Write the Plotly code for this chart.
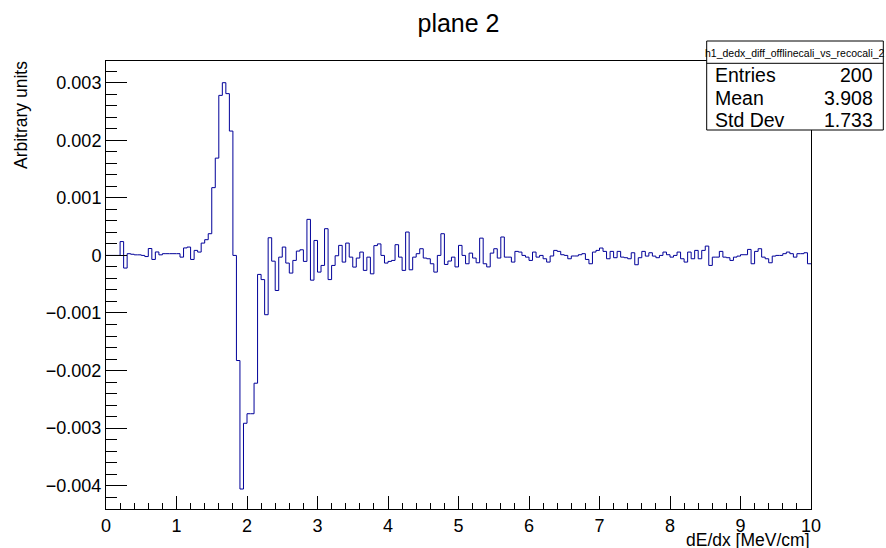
import numpy as np
import plotly.graph_objects as go

# ---------------- data ----------------
hist_name = "h1_dedx_diff_offlinecali_vs_recocali_2"
title_text = "plane 2"
x_title = "dE/dx [MeV/cm]"
y_title = "Arbitrary units"
n_bins = 200
x_min, x_max = 0.0, 10.0

# bin contents, in units of 1e-3
contents_e3 = [
    0, 0, 0, 0, 0.24, -0.22, 0.03, 0.02, 0.01, 0.01,
    0.0, -0.02, 0.12, -0.07, 0.06, 0.01, 0.03, 0.03, 0.03, 0.03,
    0.03, -0.03, 0.13, 0.145, -0.07, 0.087, 0.058, 0.214, 0.273, 0.377,
    1.177, 1.69, 2.78, 3.00, 2.81, 2.16, 0.0, -1.826, -4.058, -2.916,
    -2.75, -2.75, -2.22, -0.33, -0.42, -1.03, 0.307, -0.10, -0.609, -0.03,
    0.145, -0.133, -0.307, -0.087, 0.075, 0.098, -0.104, 0.626, -0.43, 0.26,
    -0.29, -0.174, 0.464, -0.42, -0.174, -0.006, 0.174, -0.116, 0.214, -0.03,
    -0.203, -0.046, 0.058, -0.26, -0.03, -0.32, 0.17, 0.2, 0.0, -0.133,
    -0.104, -0.087, 0.186, -0.03, -0.26, 0.406, -0.25, -0.03, 0.03, 0.116,
    -0.046, -0.058, -0.145, -0.29, 0.0, 0.377, -0.157, -0.098, -0.03, -0.2,
    0.174, 0.0, -0.145, 0.04, -0.046, -0.128, 0.3, -0.145, -0.2, 0.04,
    0.116, -0.046, 0.32, -0.03, -0.03, -0.116, 0.07, 0.058, 0.0, -0.03,
    -0.087, 0.058, -0.03, 0.0, -0.058, -0.116, -0.01, 0.087, 0.07, 0.012,
    0.0, -0.058, -0.01, -0.01, 0.012, 0.03, -0.07, -0.145, 0.058, 0.087,
    0.128, 0.07, -0.058, 0.07, -0.04, 0.07, -0.03, -0.04, -0.058, 0.046,
    -0.162, -0.04, 0.07, -0.012, 0.046, -0.012, -0.04, 0.0, 0.058, 0.012,
    -0.03, 0.0, 0.058, -0.058, -0.116, 0.058, -0.058, 0.087, -0.058, 0.087,
    0.162, -0.174, -0.03, -0.03, 0.07, -0.03, -0.04, -0.087, -0.03, -0.012,
    0.012, 0.012, 0.104, -0.145, 0.07, 0.116, -0.03, -0.058, -0.128, -0.012,
    0.0, 0.0, 0.03, 0.058, 0.03, -0.03, 0.03, 0.03, 0.046, -0.145,
]

stats_labels = ["Entries", "Mean", "Std Dev"]
stats_values = ["200", "3.908", "1.733"]

x_tick_vals = [0, 1, 2, 3, 4, 5, 6, 7, 8, 9, 10]
x_tick_labels = ["0", "1", "2", "3", "4", "5", "6", "7", "8", "9", "10"]
y_tick_vals = [0.003, 0.002, 0.001, 0.0, -0.001, -0.002, -0.003, -0.004]
y_tick_labels = ["0.003", "0.002", "0.001", "0", "\u22120.001", "\u22120.002",
                 "\u22120.003", "\u22120.004"]
y_range = [-0.004405, 0.003377]

# ---------------- figure ----------------
W, H = 886, 548
L, R, T, B = 106, 811, 61, 509
FONT = "Liberation Sans, Arial, Helvetica, sans-serif"
LINE_COLOR = "#000099"
TICK_FONT = 18
TITLE_FONT = 25
STATS_FONT = 19.5
AXTITLE_FONT = 17.5


def px(x):
    return (x - L) / (R - L)


def py(y):
    return (B - y) / (B - T)


contents = np.array(contents_e3) * 1e-3
edges = np.linspace(x_min, x_max, n_bins + 1)
xs = edges
ys = np.append(contents, contents[-1])

fig = go.Figure()
fig.add_trace(go.Scatter(
    x=xs, y=ys, mode="lines", line=dict(color=LINE_COLOR, width=1, shape="hv"),
    hoverinfo="skip", showlegend=False,
))

axis_common = dict(
    showline=True, linecolor="black", linewidth=1, mirror=True,
    showgrid=False, zeroline=False, ticks="inside", tickcolor="black",
    tickwidth=1, tickfont=dict(family=FONT, size=TICK_FONT, color="black"),
)

fig.update_xaxes(
    range=[x_min, x_max], tickmode="array", tickvals=x_tick_vals,
    ticktext=x_tick_labels, ticklen=13,
    minor=dict(ticks="inside", ticklen=6, tickmode="linear", tick0=0,
               dtick=0.2, tickcolor="black", tickwidth=1, showgrid=False),
    **axis_common,
)
fig.update_yaxes(
    range=y_range, tickmode="array", tickvals=y_tick_vals,
    ticktext=y_tick_labels, ticklen=21,
    minor=dict(ticks="inside", ticklen=11, tickmode="linear", tick0=0,
               dtick=0.0002, tickcolor="black", tickwidth=1, showgrid=False),
    **axis_common,
)

shapes = []
annotations = []

# stats box
bx0, bx1, by0, by1, bmid = 706.7, 883.3, 41, 130, 63.3
shapes.append(dict(type="rect", xref="paper", yref="paper",
                   x0=px(bx0), x1=px(bx1), y0=py(by1), y1=py(by0),
                   line=dict(color="black", width=1), fillcolor="white",
                   layer="above"))
shapes.append(dict(type="line", xref="paper", yref="paper",
                   x0=px(bx0), x1=px(bx1), y0=py(bmid), y1=py(bmid),
                   line=dict(color="black", width=1), layer="above"))
annotations.append(dict(text=hist_name, xref="paper", yref="paper",
                        x=px((bx0 + bx1) / 2), y=py(52.5), xanchor="center",
                        yanchor="middle", showarrow=False,
                        font=dict(family=FONT, size=10.5, color="black")))
row_y = [75, 98, 120]
for lab, val, yy in zip(stats_labels, stats_values, row_y):
    annotations.append(dict(text=lab, xref="paper", yref="paper", x=px(713),
                            y=py(yy), xanchor="left", yanchor="middle",
                            showarrow=False,
                            font=dict(family=FONT, size=STATS_FONT,
                                      color="black")))
    annotations.append(dict(text=val, xref="paper", yref="paper", x=px(875),
                            y=py(yy), xanchor="right", yanchor="middle",
                            showarrow=False,
                            font=dict(family=FONT, size=STATS_FONT,
                                      color="black")))

# axis titles
annotations.append(dict(text=y_title, xref="paper", yref="paper", x=px(21),
                        y=py(59), xanchor="center", yanchor="top",
                        textangle=-90, showarrow=False,
                        font=dict(family=FONT, size=AXTITLE_FONT,
                                  color="black")))
annotations.append(dict(text=x_title, xref="paper", yref="paper", x=px(812),
                        y=py(540), xanchor="right", yanchor="middle",
                        showarrow=False,
                        font=dict(family=FONT, size=AXTITLE_FONT,
                                  color="black")))

fig.update_layout(
    width=W, height=H,
    margin=dict(l=L, r=W - R, t=T, b=H - B, pad=0),
    paper_bgcolor="white", plot_bgcolor="white",
    title=dict(text=title_text, x=px(458.5), xref="paper", xanchor="center",
               y=1 - 23 / H, yref="container", yanchor="middle",
               font=dict(family=FONT, size=TITLE_FONT, color="black")),
    shapes=shapes, annotations=annotations,
    font=dict(family=FONT, color="black"),
)

fig.write_html("out.html", config={"displayModeBar": False})
